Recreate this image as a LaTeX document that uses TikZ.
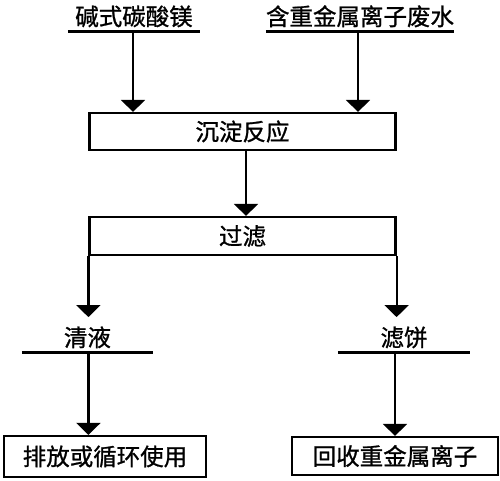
\documentclass[tikz,border=0pt]{standalone}
\usepackage{fontspec}
\setmainfont[FakeBold=1,AutoFakeBold=1]{Noto Sans CJK SC}
\usetikzlibrary{arrows.meta}
\begin{document}
\begin{tikzpicture}[x=1pt,y=-1pt,
  every node/.style={font=\fontsize{23.5pt}{26pt}\selectfont\bfseries},
  procbox/.style={draw,line width=2.2pt,inner sep=0pt,anchor=center},
  lbl/.style={inner xsep=0pt,inner ysep=6pt,text height=23pt,text depth=0pt,anchor=south},
  uline/.style={line width=2.2pt},
  arr/.style={line width=2.2pt,-{Triangle[width=24pt,length=12pt]}}]
\useasboundingbox (0,0) rectangle (500,481);
% labels with underline
\node[lbl,minimum width=132pt] (jsl) at (134,31.5) {碱式碳酸镁};
\node[lbl,minimum width=188pt] (fs) at (360,31.5) {含重金属离子废水};
\node[lbl,minimum width=131pt] (qy) at (87.5,352.5) {清液};
\node[lbl,minimum width=132pt] (lb) at (404,352.5) {滤饼};
\foreach \n in {jsl,fs,qy,lb} \draw[uline] (\n.south west) -- (\n.south east);
% boxes
\node[procbox,minimum width=306pt,minimum height=37pt] (cd) at (242.5,131.5) {沉淀反应};
\node[procbox,minimum width=306pt,minimum height=38pt] (gl) at (242.5,236) {过滤};
\node[procbox,minimum width=202pt,minimum height=41pt] (pf) at (105,456.5) {排放或循环使用};
\node[procbox,minimum width=206pt,minimum height=38pt] (hs) at (395,456) {回收重金属离子};
% connectors
\draw[arr] ([xshift=-1pt]jsl.south) -- ([xshift=-1pt]jsl.south |- cd.north);
\draw[arr] ([xshift=-2pt]fs.south) -- ([xshift=-2pt]fs.south |- cd.north);
\draw[arr] ([xshift=3.5pt]cd.south) -- ([xshift=3.5pt]cd.south |- gl.north);
\draw[arr] (gl.south west) -- (gl.south west |- qy.north);
\draw[arr] (gl.south east) -- (gl.south east |- lb.north);
\draw[arr] (qy.south -| gl.south west) -- (gl.south west |- pf.north);
\draw[arr] (lb.south -| hs.north) -- (hs.north);
\end{tikzpicture}
\end{document}
